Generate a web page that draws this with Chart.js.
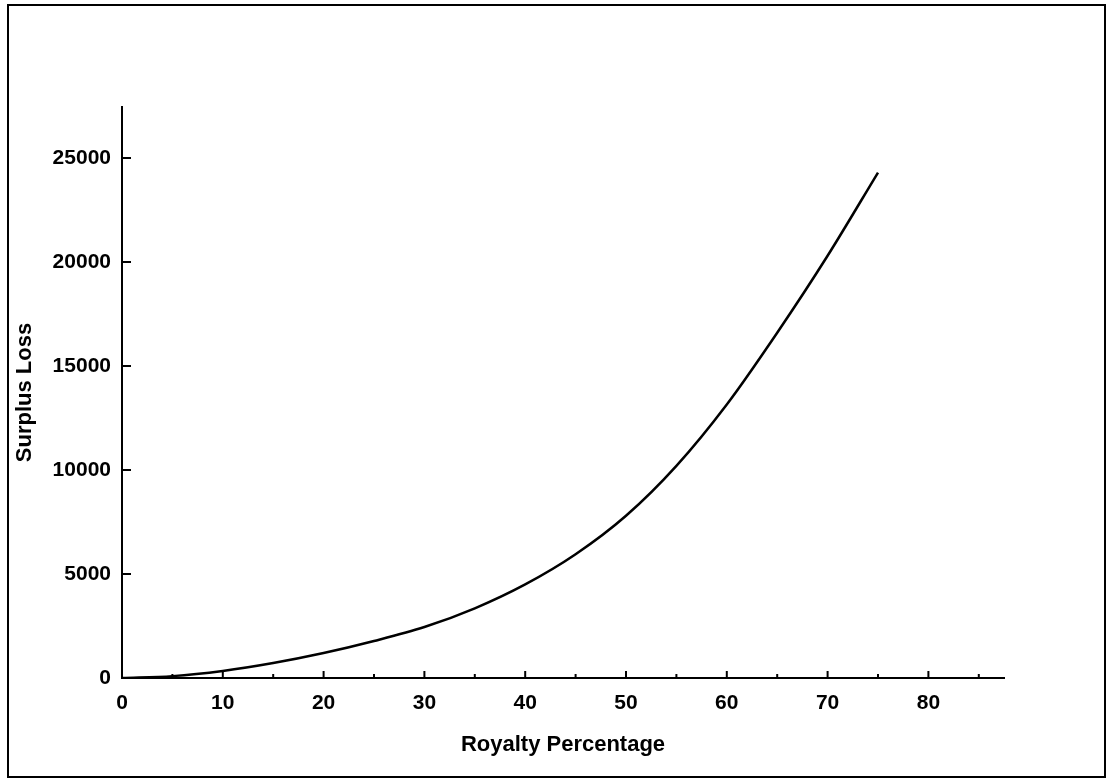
<!DOCTYPE html>
<html lang="en">
<head>
    <meta charset="UTF-8">
    <script src="https://cdn.jsdelivr.net/npm/chart.js"></script>
    <title>Surplus Loss vs Royalty Percentage</title>
    <style>
        body { margin: 0; background: #fff; }
        #frame {
            position: absolute; left: 7px; top: 4px;
            width: 1095px; height: 770px;
            border: 2px solid #000;
        }
        #wrap { position: absolute; left: 0; top: 0; width: 1108px; height: 780px; }
    </style>
</head>
<body>
    <div id="frame"></div>
    <div id="wrap"><canvas id="myChart" width="1108" height="780"></canvas></div>
    <script>
        // values
        const royalty = [0, 5, 10, 15, 20, 25, 30, 35, 40, 45, 50, 55, 60, 65, 70, 75];
        const surplusLoss = [0, 90, 340, 720, 1200, 1780, 2450, 3350, 4500, 5950, 7800, 10200, 13150, 16600, 20300, 24300];
        const xTicks = [0, 10, 20, 30, 40, 50, 60, 70, 80];
        const xMinor = [5, 15, 25, 35, 45, 55, 65, 75, 85];
        const yTicks = [0, 5000, 10000, 15000, 20000, 25000];

        const font = 'Arial, "Liberation Sans", sans-serif';

        // tick marks point into the plot
        const inwardTicks = {
            id: 'inwardTicks',
            afterDraw(chart) {
                const ctx = chart.ctx, x = chart.scales.x, y = chart.scales.y;
                ctx.save();
                ctx.strokeStyle = '#000';
                ctx.lineWidth = 2;
                ctx.beginPath();
                xTicks.forEach(v => {
                    const px = x.getPixelForValue(v);
                    ctx.moveTo(px, y.bottom); ctx.lineTo(px, y.bottom - 7);
                });
                xMinor.forEach(v => {
                    const px = x.getPixelForValue(v);
                    ctx.moveTo(px, y.bottom); ctx.lineTo(px, y.bottom - 4);
                });
                yTicks.forEach(v => {
                    const py = y.getPixelForValue(v);
                    ctx.moveTo(x.left, py); ctx.lineTo(x.left + 9, py);
                });
                ctx.stroke();
                ctx.restore();
            }
        };

        const ctx = document.getElementById('myChart').getContext('2d');
        new Chart(ctx, {
            type: 'scatter',
            data: {
                datasets: [{
                    data: royalty.map((r, i) => ({ x: r, y: surplusLoss[i] })),
                    showLine: true,
                    borderColor: '#000',
                    borderWidth: 2.5,
                    pointRadius: 0,
                    cubicInterpolationMode: 'monotone'
                }]
            },
            options: {
                responsive: false,
                animation: false,
                layout: { padding: { left: 0, top: 107, right: 104, bottom: 0 } },
                plugins: { legend: { display: false }, tooltip: { enabled: false } },
                scales: {
                    x: {
                        type: 'linear',
                        min: 0,
                        max: 87.5,
                        afterFit(s) { s.height = 102; },
                        afterBuildTicks(s) { s.ticks = xTicks.map(v => ({ value: v })); },
                        grid: { display: false },
                        border: { color: '#000', width: 2 },
                        ticks: {
                            color: '#000', padding: 5,
                            callback: v => String(v),
                            font: { family: font, size: 21, weight: 'bold' }
                        },
                        title: {
                            display: true,
                            text: 'Royalty Percentage',
                            color: '#000',
                            padding: { top: 0, bottom: 22 },
                            font: { family: font, size: 22, weight: 'bold' }
                        }
                    },
                    y: {
                        min: 0,
                        max: 27450,
                        afterFit(s) { s.width = 122; },
                        afterBuildTicks(s) { s.ticks = yTicks.map(v => ({ value: v })); },
                        grid: { display: false },
                        border: { color: '#000', width: 2 },
                        ticks: {
                            color: '#000', padding: 3,
                            callback: v => String(v),
                            font: { family: font, size: 21, weight: 'bold' }
                        },
                        title: {
                            display: true,
                            text: 'Surplus Loss',
                            color: '#000',
                            padding: { top: 12, bottom: 0 },
                            font: { family: font, size: 22, weight: 'bold' }
                        }
                    }
                }
            },
            plugins: [inwardTicks]
        });
    </script>
</body>
</html>
